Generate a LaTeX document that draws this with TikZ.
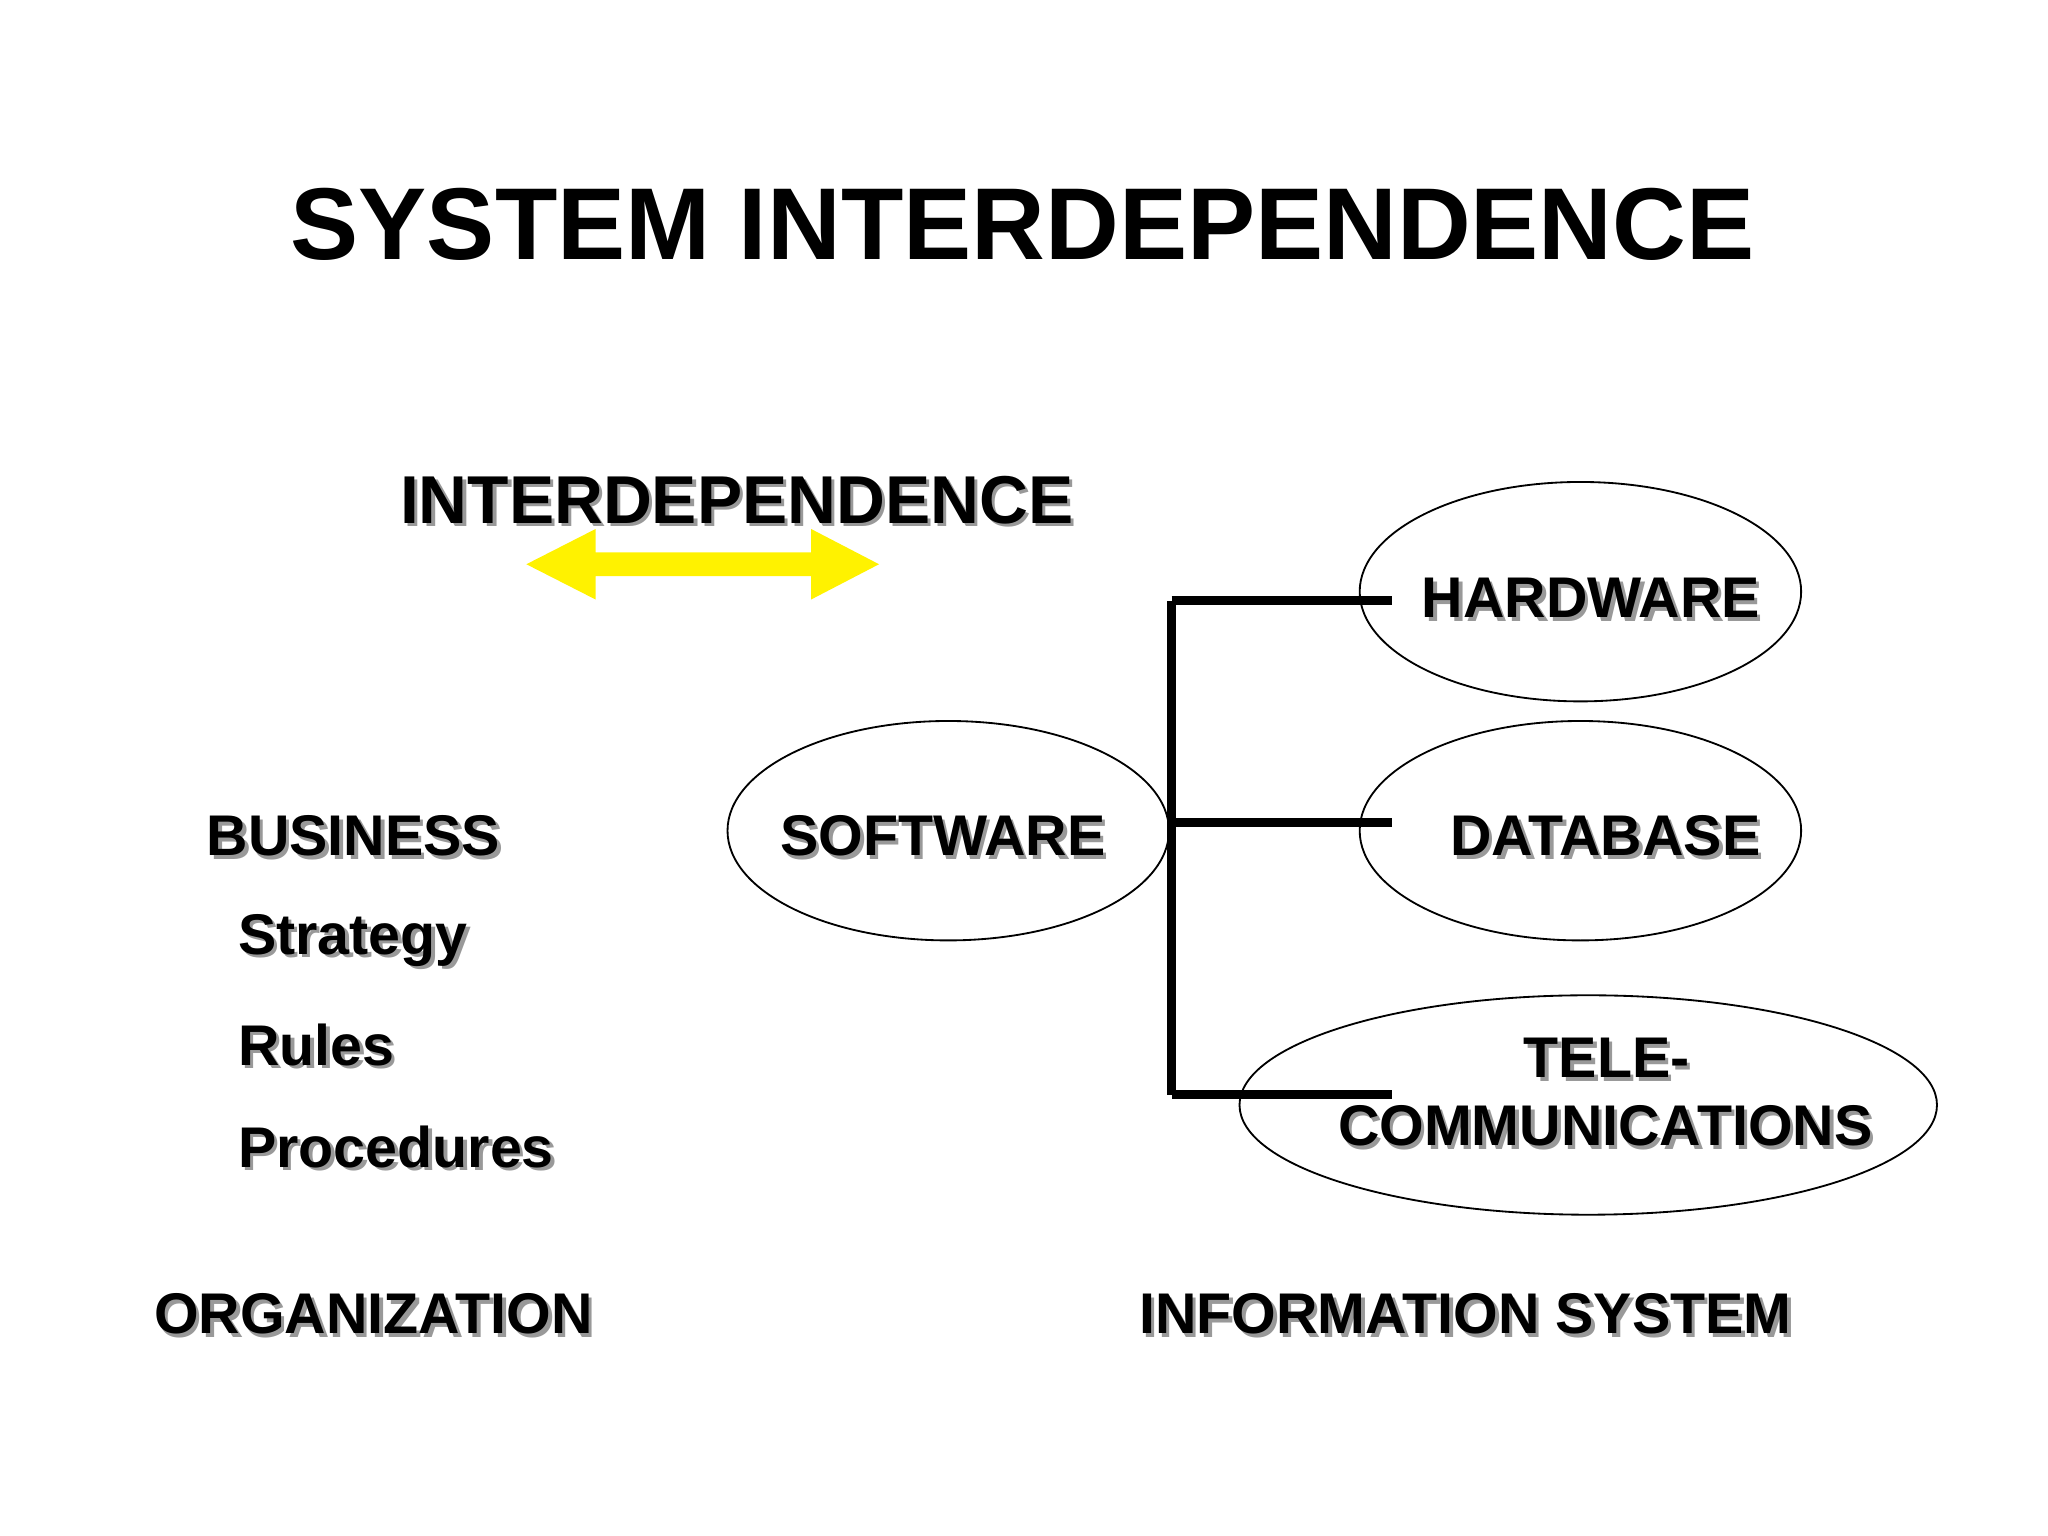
\documentclass[tikz,border=0pt]{standalone}
\usepackage{fontspec}
\setmainfont{Liberation Sans}
\begin{document}
\begin{tikzpicture}[x=0.02cm,y=-0.02cm,
  lbl/.style={font=\bfseries\fontsize{25}{27}\selectfont,inner sep=0pt},
  big/.style={font=\bfseries\fontsize{29.5}{31}\selectfont,inner sep=0pt},
  shd/.style={text=black!40,xshift=1.5pt,yshift=-1.5pt},
  ell/.style={draw,line width=0.8pt},
  bar/.style={line width=4pt}]
\useasboundingbox (0,0) rectangle (1568,1176);
\node[font=\bfseries\fontsize{44.5}{46}\selectfont] (title) at (783,172) {SYSTEM INTERDEPENDENCE};
% shadows
\node[big,shd] at (564,383) {INTERDEPENDENCE};
\foreach \p/\t/\a in {{1218,458}/HARDWARE/center,{1229,640}/DATABASE/center,{722,640}/SOFTWARE/center,{1230,810}/TELE-/center,{1229,862}/COMMUNICATIONS/center,{286,1006}/ORGANIZATION/center,{1122,1006}/INFORMATION SYSTEM/center,{158,640}/BUSINESS/west,{182,720}/Strategy/west,{182,800}/Rules/west,{182,878}/Procedures/west}
  \node[lbl,shd,anchor=\a] at (\p) {\t};
\node[big] (inter) at (564,383) {INTERDEPENDENCE};
\fill[yellow] (403,432) -- (456,405) -- (456,423) -- (621,423) -- (621,405) -- (673,432) -- (621,459) -- (621,441) -- (456,441) -- (456,459) -- cycle;
\draw[ell] (1210,453) ellipse [x radius=169,y radius=84];
\draw[ell] (1210,636) ellipse [x radius=169,y radius=84];
\draw[ell] (726,636) ellipse [x radius=169,y radius=84];
\draw[ell] (1216,846) ellipse [x radius=267,y radius=84];
\coordinate (t) at (897,460); \coordinate (m) at (897,630); \coordinate (b) at (897,838);
\coordinate (h1) at (1066,460); \coordinate (d1) at (1066,630); \coordinate (c1) at (1066,838);
\draw[bar] (t) -- (b);
\draw[bar] (t) -- (h1); \draw[bar] (m) -- (d1); \draw[bar] (b) -- (c1);
\node[lbl] (hw) at (1218,458) {HARDWARE};
\node[lbl] (db) at (1229,640) {DATABASE};
\node[lbl] (sw) at (722,640) {SOFTWARE};
\node[lbl] (tele) at (1230,810) {TELE-};
\node[lbl] (comm) at (1229,862) {COMMUNICATIONS};
\node[lbl] (org) at (286,1006) {ORGANIZATION};
\node[lbl] (is) at (1122,1006) {INFORMATION SYSTEM};
\node[lbl,anchor=west] (bus) at (158,640) {BUSINESS};
\node[lbl,anchor=west] (str) at (182,720) {Strategy};
\node[lbl,anchor=west] (rul) at (182,800) {Rules};
\node[lbl,anchor=west] (pro) at (182,878) {Procedures};
\end{tikzpicture}
\end{document}
